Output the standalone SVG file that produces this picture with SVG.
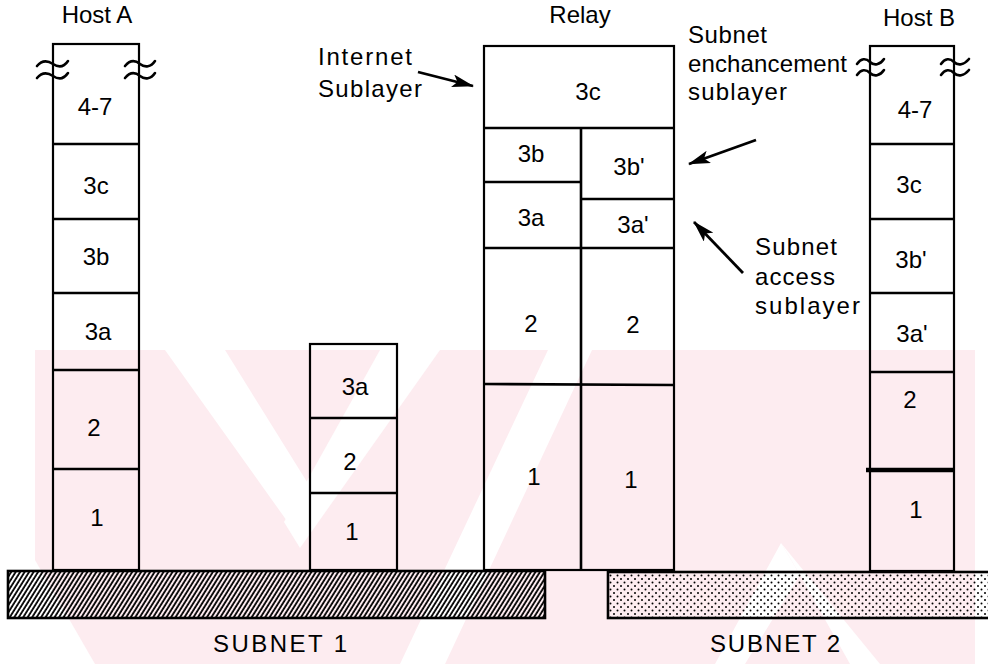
<svg xmlns="http://www.w3.org/2000/svg" width="988" height="664" viewBox="0 0 988 664">
  <style>
    .cell { fill: none; stroke: #000; stroke-width: 2.2; }
    .div { stroke: #000; stroke-width: 2.6; }
    .thick { stroke: #000; stroke-width: 4.5; }
    .lbl { font-family: "Liberation Sans", Arial, sans-serif; font-size: 24px; fill: #000; text-anchor: middle; }
    .note { font-family: "Liberation Sans", Arial, sans-serif; font-size: 24px; fill: #000; }
    .brk { fill: none; stroke: #000; stroke-width: 2.6; stroke-linecap: round; }
    .arrow { stroke: #000; stroke-width: 2.8; fill: none; }
    .wm { fill: #fdecf0; }
    .gap { fill: #fff; }
  </style>
  <defs>
    <pattern id="hatch" patternUnits="userSpaceOnUse" width="3.8" height="10" patternTransform="rotate(32)">
      <line x1="1" y1="0" x2="1" y2="10" stroke="#000" stroke-width="1.8"/>
    </pattern>
    <pattern id="dots" patternUnits="userSpaceOnUse" width="7" height="7">
      <circle cx="1.5" cy="1.5" r="1" fill="#000"/>
      <circle cx="5" cy="5" r="1" fill="#000"/>
    </pattern>
    <marker id="head" viewBox="0 0 22 13" refX="21" refY="6.5" markerWidth="22" markerHeight="13" markerUnits="userSpaceOnUse" orient="auto">
      <path d="M0,0 L22,6.5 L0,13 L5,6.5 Z" fill="#000"/>
    </marker>
  </defs>

  <rect width="988" height="664" fill="#fff"/>

  <!-- faint background emblem: pale field cut by white diagonal bands -->
  <g id="emblem">
    <rect class="wm" x="35" y="350" width="940" height="314"/>
    <polygon class="gap" points="165,350 225,350 312,490 292,528"/>
    <polygon class="gap" points="380,350 440,350 300,548 284,522"/>
    <polygon class="gap" points="400,664 445,664 592,350 548,350"/>
    <polygon class="gap" points="781,543 800,575 745,664 715,664"/>
    <polygon class="gap" points="781,543 800,575 850,664 880,664"/>
    <polygon class="gap" points="35,560 35,664 95,664"/>
  </g>

  <!-- subnets -->
  <g id="subnet1">
    <rect x="8" y="571" width="537" height="47" fill="url(#hatch)" stroke="#000" stroke-width="2.6"/>
    <text class="lbl" x="280" y="652" textLength="134" lengthAdjust="spacing">SUBNET  1</text>
  </g>
  <g id="subnet2">
    <rect x="608" y="572" width="385" height="46" fill="url(#dots)" stroke="#000" stroke-width="2.6"/>
    <text class="lbl" x="775" y="652" textLength="130" lengthAdjust="spacing">SUBNET 2</text>
  </g>

  <!-- Host A -->
  <g id="hostA">
    <text class="lbl" x="97" y="23">Host A</text>
    <rect class="cell" x="53" y="44" width="86" height="526"/>
    <line class="div" x1="53" y1="144" x2="139" y2="144"/>
    <line class="div" x1="53" y1="219" x2="139" y2="219"/>
    <line class="div" x1="53" y1="293" x2="139" y2="293"/>
    <line class="div" x1="53" y1="370" x2="139" y2="370"/>
    <line class="div" x1="53" y1="469" x2="139" y2="469"/>
    <path class="brk" d="M37,66 c5,-6 10,-6 16,-2 s11,3 15,-3 M37,78 c5,-6 10,-6 16,-2 s11,3 15,-3"/>
    <path class="brk" d="M125,66 c5,-6 10,-6 15,-2 s11,3 15,-3 M125,78 c5,-6 10,-6 15,-2 s11,3 15,-3"/>
    <text class="lbl" x="95" y="115">4-7</text>
    <text class="lbl" x="96" y="194">3c</text>
    <text class="lbl" x="96" y="265">3b</text>
    <text class="lbl" x="98" y="340">3a</text>
    <text class="lbl" x="94" y="436">2</text>
    <text class="lbl" x="97" y="526">1</text>
  </g>

  <!-- intermediate node -->
  <g id="midnode">
    <rect class="cell" x="310" y="344" width="87" height="226"/>
    <line class="div" x1="310" y1="418" x2="397" y2="418"/>
    <line class="div" x1="310" y1="493" x2="397" y2="493"/>
    <text class="lbl" x="355" y="395">3a</text>
    <text class="lbl" x="350" y="470">2</text>
    <text class="lbl" x="352" y="540">1</text>
  </g>

  <!-- Relay -->
  <g id="relay">
    <text class="lbl" x="580" y="23">Relay</text>
    <rect class="cell" x="484" y="46" width="190" height="524"/>
    <line class="div" x1="484" y1="128" x2="674" y2="128"/>
    <line class="div" x1="581" y1="128" x2="581" y2="570"/>
    <line class="div" x1="484" y1="182" x2="581" y2="182"/>
    <line class="div" x1="581" y1="199" x2="674" y2="199"/>
    <line class="div" x1="484" y1="248" x2="674" y2="248"/>
    <line class="div" x1="484" y1="384" x2="674" y2="385"/>
    <text class="lbl" x="588" y="100">3c</text>
    <text class="lbl" x="531" y="162">3b</text>
    <text class="lbl" x="629" y="175">3b'</text>
    <text class="lbl" x="531" y="226">3a</text>
    <text class="lbl" x="633" y="233">3a'</text>
    <text class="lbl" x="531" y="332">2</text>
    <text class="lbl" x="633" y="333">2</text>
    <text class="lbl" x="534" y="485">1</text>
    <text class="lbl" x="631" y="488">1</text>
  </g>

  <!-- Host B -->
  <g id="hostB">
    <text class="lbl" x="919" y="26">Host B</text>
    <rect class="cell" x="870" y="46" width="84" height="525"/>
    <line class="div" x1="870" y1="144" x2="954" y2="144"/>
    <line class="div" x1="870" y1="219" x2="954" y2="219"/>
    <line class="div" x1="870" y1="293" x2="954" y2="293"/>
    <line class="div" x1="870" y1="372" x2="954" y2="372"/>
    <line class="thick" x1="866" y1="470" x2="954" y2="470"/>
    <path class="brk" d="M857,64 c4,-6 9,-6 13,-2 s10,3 14,-3 M857,75 c4,-6 9,-6 13,-2 s10,3 14,-3"/>
    <path class="brk" d="M941,64 c4,-6 9,-6 13,-2 s10,3 15,-3 M941,75 c4,-6 9,-6 13,-2 s10,3 15,-3"/>
    <text class="lbl" x="915" y="118">4-7</text>
    <text class="lbl" x="909" y="193">3c</text>
    <text class="lbl" x="911" y="268">3b'</text>
    <text class="lbl" x="912" y="342">3a'</text>
    <text class="lbl" x="910" y="408">2</text>
    <text class="lbl" x="916" y="518">1</text>
  </g>

  <!-- annotations -->
  <g id="note-internet">
    <text class="note" x="318" y="65" textLength="94" lengthAdjust="spacing">Internet</text>
    <text class="note" x="318" y="97" textLength="104" lengthAdjust="spacing">Sublayer</text>
  </g>
  <g id="note-enhancement">
    <text class="note" x="688" y="43" textLength="79" lengthAdjust="spacing">Subnet</text>
    <text class="note" x="688" y="72" textLength="159" lengthAdjust="spacing">enchancement</text>
    <text class="note" x="688" y="100" textLength="99" lengthAdjust="spacing">sublayer</text>
  </g>
  <g id="note-access">
    <text class="note" x="755" y="255" textLength="82" lengthAdjust="spacing">Subnet</text>
    <text class="note" x="755" y="285" textLength="80" lengthAdjust="spacing">access</text>
    <text class="note" x="755" y="314" textLength="105" lengthAdjust="spacing">sublayer</text>
  </g>

  <!-- connectors -->
  <g id="connectors">
    <line class="arrow" x1="418" y1="72" x2="473" y2="86" marker-end="url(#head)"/>
    <line class="arrow" x1="756" y1="140" x2="689" y2="164" marker-end="url(#head)"/>
    <line class="arrow" x1="743" y1="273" x2="694" y2="222" marker-end="url(#head)"/>
  </g>
</svg>
